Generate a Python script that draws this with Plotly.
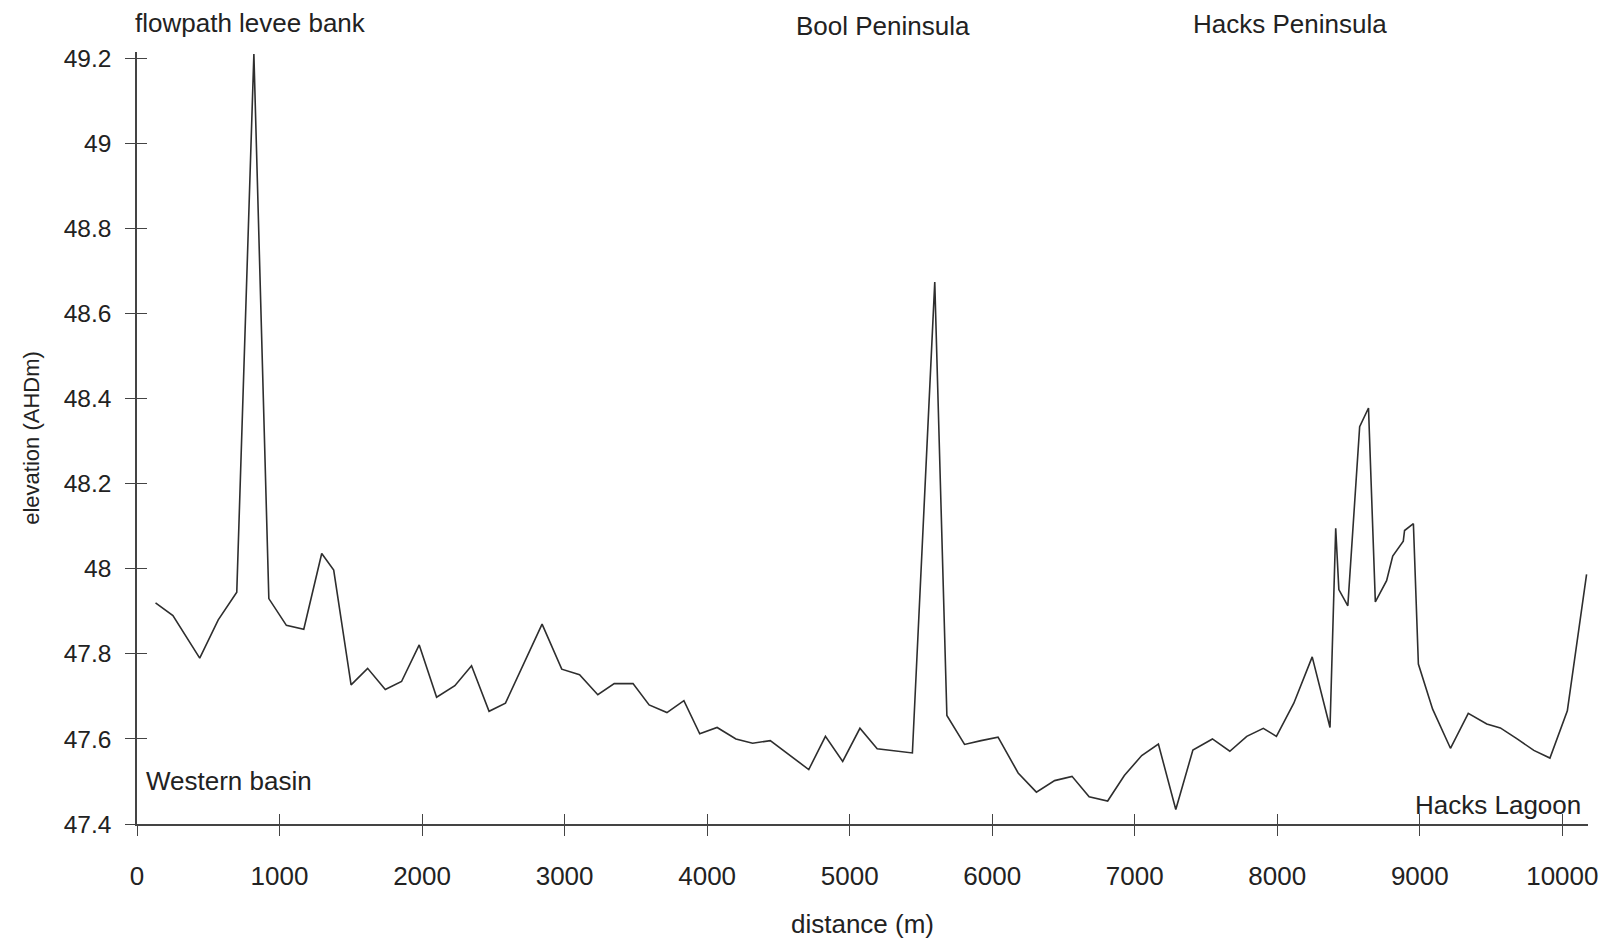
import plotly.graph_objects as go

distance_m = [130, 252, 440, 570, 700, 820, 925, 1048, 1170, 1296, 1380, 1502, 1618, 1742,
              1856, 1980, 2102, 2230, 2347, 2470, 2585, 2708, 2842, 2980, 3105, 3233, 3348,
              3480, 3593, 3718, 3837, 3948, 4070, 4202, 4319, 4443, 4578, 4713, 4830, 4951,
              5072, 5193, 5440, 5597, 5682, 5806, 5922, 6041, 6182, 6310, 6438, 6560, 6680,
              6810, 6927, 7049, 7166, 7288, 7408, 7545, 7667, 7786, 7902, 7994, 8116, 8245,
              8370, 8410, 8432, 8495, 8578, 8640, 8688, 8767, 8810, 8884, 8893, 8955, 8990,
              9090, 9215, 9340, 9470, 9565, 9683, 9800, 9913, 10035, 10170]
elevation_ahdm = [47.92, 47.89, 47.79, 47.88, 47.945, 49.21, 47.93, 47.867, 47.858, 48.036,
                  47.997, 47.727, 47.766, 47.716, 47.735, 47.821, 47.698, 47.725, 47.772,
                  47.665, 47.684, 47.774, 47.87, 47.764, 47.751, 47.704, 47.73, 47.73, 47.68,
                  47.662, 47.69, 47.612, 47.627, 47.6, 47.59, 47.596, 47.563, 47.528, 47.606,
                  47.547, 47.625, 47.577, 47.567, 48.674, 47.655, 47.587, 47.596, 47.604,
                  47.52, 47.475, 47.502, 47.512, 47.464, 47.454, 47.514, 47.561, 47.588,
                  47.434, 47.574, 47.6, 47.571, 47.606, 47.625, 47.606, 47.684, 47.793,
                  47.627, 48.095, 47.951, 47.913, 48.334, 48.378, 47.922, 47.972, 48.03,
                  48.065, 48.09, 48.106, 47.776, 47.67, 47.578, 47.66, 47.635, 47.626, 47.6,
                  47.573, 47.555, 47.666, 47.987]

x_ticks = [0, 1000, 2000, 3000, 4000, 5000, 6000, 7000, 8000, 9000, 10000]
x_tick_labels = ["0", "1000", "2000", "3000", "4000", "5000", "6000", "7000", "8000", "9000", "10000"]
y_ticks = [47.4, 47.6, 47.8, 48.0, 48.2, 48.4, 48.6, 48.8, 49.0, 49.2]
y_tick_labels = ["47.4", "47.6", "47.8", "48", "48.2", "48.4", "48.6", "48.8", "49", "49.2"]

# place names inside the plot (data coordinates)
inner_labels = ["Western basin", "Hacks Lagoon"]
inner_x = [52, 10142]
inner_y = [47.502, 47.445]
inner_anchor = ["left", "right"]

# place names above the plot (paper coordinates)
top_labels = ["flowpath levee bank", "Bool Peninsula", "Hacks Peninsula"]
top_x = [-0.003, 0.5144, 0.7943]
top_y = [1.0375, 1.0336, 1.0364]
top_anchor = ["left", "center", "center"]

INK = "#222222"
FONT = "Liberation Sans, Arial, sans-serif"

fig = go.Figure()
fig.add_trace(go.Scatter(x=distance_m, y=elevation_ahdm, mode="lines",
                         line=dict(color="#2e2e2e", width=1.6), showlegend=False,
                         hoverinfo="x+y"))
# empty trace so the overlay axes (inner half of the crossing ticks) get drawn
fig.add_trace(go.Scatter(x=[], y=[], xaxis="x2", yaxis="y2", showlegend=False,
                         hoverinfo="skip"))

for t, px, py, an in zip(inner_labels, inner_x, inner_y, inner_anchor):
    fig.add_annotation(x=px, y=py, xref="x", yref="y", text=t, showarrow=False,
                       xanchor=an, yanchor="middle",
                       font=dict(family=FONT, size=26, color=INK))
for t, px, py, an in zip(top_labels, top_x, top_y, top_anchor):
    fig.add_annotation(x=px, y=py, xref="paper", yref="paper", text=t, showarrow=False,
                       xanchor=an, yanchor="middle",
                       font=dict(family=FONT, size=26, color=INK))

XR = [0, 10180]
YR = [47.4, 49.215]

fig.update_layout(
    width=1610, height=941,
    margin=dict(l=137, r=22, t=52, b=117, autoexpand=False),
    paper_bgcolor="white", plot_bgcolor="white",
    font=dict(family=FONT, color=INK),
    xaxis=dict(range=XR, tickvals=x_ticks, ticktext=x_tick_labels,
               ticks="outside", ticklen=10, tickwidth=1.3, tickcolor="#444",
               showline=True, linecolor="#444", linewidth=1.5,
               showgrid=False, zeroline=False,
               tickfont=dict(size=26, color=INK), ticklabelstandoff=18,
               title=dict(text="distance (m)", standoff=25,
                          font=dict(size=26, color=INK))),
    yaxis=dict(range=YR, tickvals=y_ticks, ticktext=y_tick_labels,
               ticks="outside", ticklen=10, tickwidth=1.3, tickcolor="#444",
               showline=True, linecolor="#444", linewidth=1.5,
               showgrid=False, zeroline=False,
               tickfont=dict(size=24.5, color=INK), ticklabelstandoff=9,
               title=dict(text="elevation (AHDm)", standoff=18,
                          font=dict(family="Liberation Sans Narrow, Arial Narrow, Liberation Sans, sans-serif",
                                    size=22, color=INK))),
    xaxis2=dict(overlaying="x", matches="x", anchor="y", side="bottom",
                range=XR, tickvals=x_ticks, ticks="inside", ticklen=10, tickwidth=1.3,
                tickcolor="#444", showticklabels=False, showline=False,
                showgrid=False, zeroline=False),
    yaxis2=dict(overlaying="y", matches="y", anchor="x", side="left",
                range=YR, tickvals=y_ticks, ticks="inside", ticklen=10, tickwidth=1.3,
                tickcolor="#444", showticklabels=False, showline=False,
                showgrid=False, zeroline=False),
)

fig.write_html("out.html")
